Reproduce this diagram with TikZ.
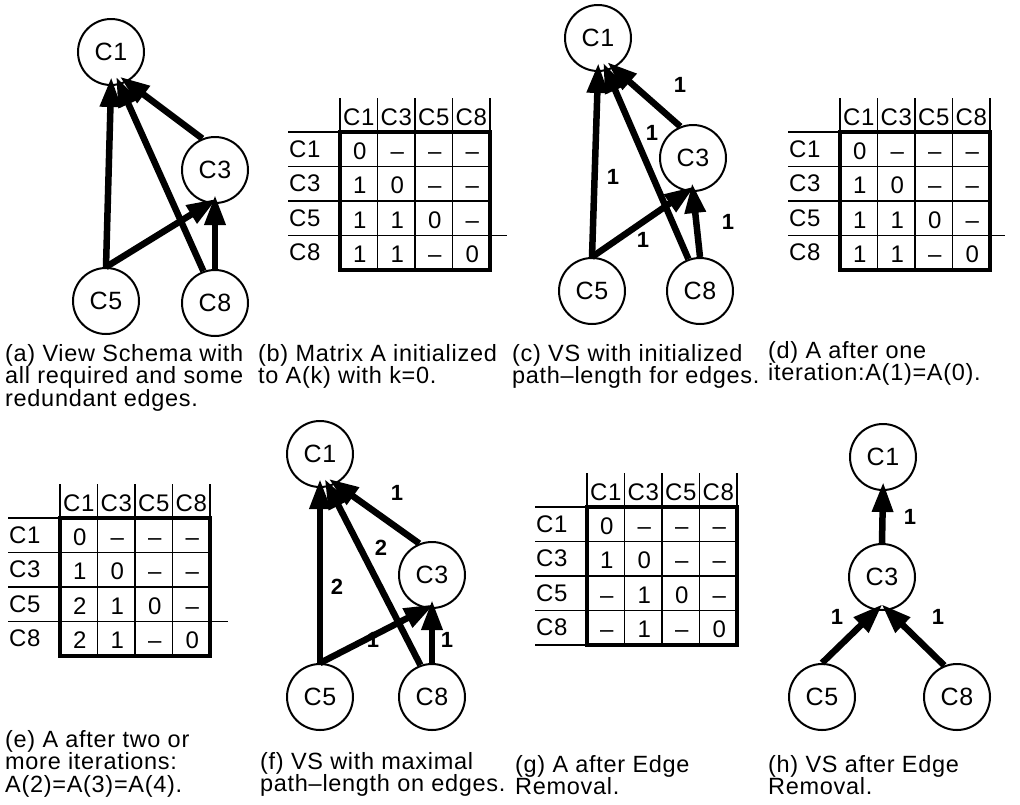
\documentclass[tikz,border=0pt]{standalone}
\usepackage{fontspec}
\setmainfont{Liberation Sans}[LetterSpace=3]
\usetikzlibrary{arrows.meta}

\tikzset{
  vs/.style={circle,draw,line width=2pt,minimum size=66pt,inner sep=0pt,
    font=\fontsize{25}{28}\selectfont},
  vsedge/.style={line width=6.5pt,-{Triangle[length=30pt,width=20pt]},shorten >=-9pt},
  elabel/.style={inner sep=0pt,font=\fontsize{22}{24}\selectfont\bfseries},
  captext/.style={anchor=north west,align=left,inner sep=0pt,
    font=\fontsize{23.5}{22.5}\selectfont},
  tabtext/.style={inner sep=0pt,anchor=base,font=\fontsize{24}{26}\selectfont},
  gridline/.style={line width=1.5pt},
  tabbox/.style={line width=4pt},
}

% path-length table: #1 prefix, (#2,#3) top left corner of the box, #4 rows
\newcommand{\pathtable}[4]{%
  \foreach \lab [count=\i] in {C1,C3,C5,C8} {
    \node[tabtext,anchor=base west] (#1-row\i) at ({#2-51},{#3+(\i-0.5)*34.5+8}) {\lab};
    \node[tabtext] (#1-col\i) at ({#2+(\i-0.5)*37.5},{#3-7}) {\lab};
  }
  \draw[gridline] ({#2},{#3-34}) -- (#2,#3) ({#2+150},{#3-34}) -- ({#2+150},#3);
  \draw[gridline] ({#2-52},#3) -- (#2,#3);
  \foreach \k in {1,2,3} {
    \draw[gridline] ({#2+\k*37.5},{#3-34}) -- ({#2+\k*37.5},{#3+138});
    \draw[gridline] ({#2-52},{#3+\k*34.5}) -- ({#2+150},{#3+\k*34.5});
  }
  \draw[tabbox] (#2,#3) rectangle ({#2+150},{#3+138});
  \foreach \row [count=\i] in {#4} {
    \foreach \v [count=\j] in \row {
      \node[tabtext] (#1-\i-\j) at ({#2+(\j-0.5)*37.5+1},{#3+(\i-0.5)*34.5+10}) {\v};
    }
  }
  \coordinate (#1-ext) at ({#2-52},{#3+3*34.5});
  \coordinate (#1-foot) at ({#2-52},{#3+138});
}

\begin{document}
\begin{tikzpicture}[x=1pt,y=-1pt]
\useasboundingbox (0,0) rectangle (1020,804);

% (a) view schema
\node (a1) at (111,52) [vs] {C1};
\node (a3) at (215,170) [vs] {C3};
\node (a5) at (106,301) [vs] {C5};
\node (a8) at (215,303) [vs] {C8};
\draw[vsedge] (a5.north) -- (a1.south);
\draw[vsedge] (a8.110) -- (a1.-75);
\draw[vsedge] (a3.112) -- (a1.-62);
\draw[vsedge] (a5.north) -- (a3.-100);
\draw[vsedge] (a8.north) -- (a3.south);

% (b) initial matrix
\pathtable{b}{340}{132}{{0,–,–,–},{1,0,–,–},{1,1,0,–},{1,1,–,0}}
\draw[gridline] (b-ext) -- ++(219,0);

% (c) initial path lengths
\node (c1) at (598,38) [vs] {C1};
\node (c3) at (693,158) [vs] {C3};
\node (c5) at (592,291) [vs] {C5};
\node (c8) at (700,291) [vs] {C8};
\draw[vsedge] (c5.north) -- (c1.south);
\draw[vsedge] (c8.110) -- (c1.-75);
\draw[vsedge] (c3.112) -- (c1.-62);
\draw[vsedge] (c5.north) -- (c3.-100);
\draw[vsedge] (c8.north) -- (c3.south);
\node[elabel] (c31) at (680,85) {1};
\node[elabel] (c81) at (652,133) {1};
\node[elabel] (c51) at (613,177) {1};
\node[elabel] (c53) at (643,240) {1};
\node[elabel] (c83) at (728,222) {1};

% (d) after one iteration
\pathtable{d}{840}{132}{{0,–,–,–},{1,0,–,–},{1,1,0,–},{1,1,–,0}}
\draw[gridline] (d-ext) -- ++(217,0);

% (e) after two or more iterations
\pathtable{e}{60}{518}{{0,–,–,–},{1,0,–,–},{2,1,0,–},{2,1,–,0}}
\draw[gridline] (e-ext) -- ++(220,0);

% (f) maximal path lengths
\node (f1) at (320,454) [vs] {C1};
\node (f3) at (432,575) [vs] {C3};
\node (f5) at (320,697) [vs] {C5};
\node (f8) at (432,697) [vs] {C8};
\draw[vsedge] (f5.north) -- (f1.south);
\draw[vsedge] (f8.110) -- (f1.-75);
\draw[vsedge] (f3.112) -- (f1.-62);
\draw[vsedge] (f5.north) -- (f3.-100);
\draw[vsedge] (f8.north) -- (f3.south);
\node[elabel] (f31) at (397,493) {1};
\node[elabel] (f81) at (381,548) {2};
\node[elabel] (f51) at (337,587) {2};
\node[elabel] (f53) at (373,640) {1};
\node[elabel] (f83) at (447,640) {1};

% (g) after edge removal
\pathtable{g}{587}{507}{{0,–,–,–},{1,0,–,–},{–,1,0,–},{–,1,–,0}}
\draw[gridline] (g-foot) -- ++(52,0);

% (h) reduced view schema
\node (h1) at (883,457) [vs] {C1};
\node (h3) at (882,577) [vs] {C3};
\node (h5) at (822,697) [vs] {C5};
\node (h8) at (957,697) [vs] {C8};
\draw[vsedge] (h3.north) -- (h1.south);
\draw[vsedge] (h5.north) -- (h3.-100);
\draw[vsedge] (h8.112) -- (h3.-80);
\node[elabel] (h31) at (910,517) {1};
\node[elabel] (h53) at (837,617) {1};
\node[elabel] (h83) at (938,617) {1};

% captions
\node[captext] (capa) at (5,344) {(a) View Schema with\\all required and some\\redundant edges.};
\node[captext] (capb) at (258,344) {(b) Matrix A initialized\\to A(k) with k=0.};
\node[captext] (capc) at (512,344) {(c) VS with initialized\\path–length for edges.};
\node[captext] (capd) at (768,341) {(d) A after one\\iteration:A(1)=A(0).};
\node[captext] (cape) at (5,730) {(e) A after two or\\more iterations:\\A(2)=A(3)=A(4).};
\node[captext] (capf) at (260,752) {(f) VS with maximal\\path–length on edges.};
\node[captext] (capg) at (515,755) {(g) A after Edge\\Removal.};
\node[captext] (caph) at (768,755) {(h) VS after Edge\\Removal.};
\end{tikzpicture}
\end{document}
